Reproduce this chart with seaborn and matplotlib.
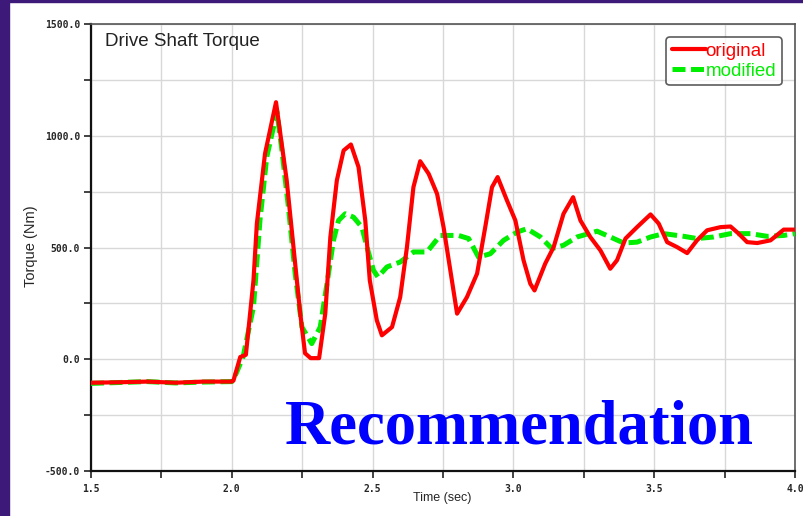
import numpy as np
import pandas as pd
import matplotlib
matplotlib.use("Agg")
import matplotlib.pyplot as plt
import seaborn as sns
from matplotlib.patches import Rectangle
from matplotlib.ticker import MultipleLocator, FixedLocator

# ---------------- data ----------------
t_original = [1.50, 1.60, 1.70, 1.80, 1.90, 2.00, 2.006, 2.03, 2.05, 2.077, 2.089, 2.118, 2.157,
              2.195, 2.219, 2.243, 2.26, 2.28, 2.31, 2.332, 2.35, 2.373, 2.397, 2.423,
              2.45, 2.474, 2.49, 2.515, 2.533, 2.569, 2.598, 2.622, 2.645, 2.669, 2.699,
              2.729, 2.752, 2.776, 2.80, 2.835, 2.871, 2.90, 2.924, 2.944, 2.977, 3.007,
              3.036, 3.06, 3.075, 3.113, 3.143, 3.178, 3.212, 3.238, 3.273, 3.309, 3.344,
              3.368, 3.398, 3.439, 3.487, 3.516, 3.546, 3.581, 3.617, 3.652, 3.688, 3.735,
              3.771, 3.80, 3.83, 3.866, 3.913, 3.96, 4.00]
v_original = [-105, -103, -100, -105, -100, -100, -95, 10, 20, 353, 607, 920, 1150,
              800, 502, 205, 27, 5, 5, 205, 547, 800, 934, 961,
              860, 621, 353, 174, 107, 144, 278, 502, 770, 886, 830,
              740, 591, 398, 204, 278, 383, 591, 770, 815, 711, 621,
              443, 338, 308, 428, 502, 651, 725, 621, 547, 487, 405,
              443, 540, 591, 648, 607, 524, 502, 475, 532, 577, 591,
              594, 562, 524, 520, 532, 580, 580]

t_modified = [1.50, 1.60, 1.70, 1.80, 1.90, 2.00, 2.01, 2.04, 2.077, 2.10, 2.124, 2.148, 2.160,
              2.178, 2.201, 2.225, 2.249, 2.284, 2.314, 2.338, 2.361, 2.379, 2.403, 2.432,
              2.462, 2.48, 2.503, 2.519, 2.551, 2.598, 2.645, 2.693, 2.74, 2.764, 2.805,
              2.841, 2.876, 2.918, 2.965, 3.013, 3.048, 3.096, 3.137, 3.178, 3.226, 3.297,
              3.344, 3.392, 3.439, 3.487, 3.534, 3.605, 3.652, 3.711, 3.771, 3.842, 3.901,
              3.96, 4.00]
v_modified = [-108, -104, -100, -106, -102, -100, -80, 10, 234, 621, 904, 1038, 1110,
              934, 681, 383, 144, 70, 144, 338, 532, 621, 651, 636,
              591, 502, 398, 368, 413, 435, 480, 480, 554, 554, 554,
              540, 457, 472, 532, 569, 584, 547, 495, 510, 547, 573,
              547, 520, 524, 547, 562, 550, 540, 547, 562, 562, 550,
              554, 562]

series_names = ["original", "modified"]
series_colors = ["#ff0000", "#00ee00"]
x_ticks = [1.5, 2.0, 2.5, 3.0, 3.5, 4.0]
x_tick_labels = ["1.5", "2.0", "2.5", "3.0", "3.5", "4.0"]
y_ticks = [-500, 0, 500, 1000, 1500]
y_tick_labels = ["-500.0", "0.0", "500.0", "1000.0", "1500.0"]

df = pd.concat([
    pd.DataFrame({"Time": t_original, "Torque": v_original, "series": series_names[0]}),
    pd.DataFrame({"Time": t_modified, "Torque": v_modified, "series": series_names[1]}),
], ignore_index=True)

# ---------------- figure ----------------
sns.set_style("white")
plt.rcParams["font.family"] = ["Liberation Sans", "DejaVu Sans"]

W, H = 804, 516
AX_L, AX_R, AX_T, AX_B = 91, 795, 24, 471
fig = plt.figure(figsize=(W / 100, H / 100), dpi=100, facecolor="white")
ax = fig.add_axes([AX_L / W, 1 - AX_B / H, (AX_R - AX_L) / W, (AX_B - AX_T) / H])
aw, ah = AX_R - AX_L, AX_B - AX_T

# purple frame strips
purple = "#3d1a7a"
fig.patches.append(Rectangle((0, 0), 9 / W, 1, transform=fig.transFigure, color=purple, zorder=-5))
fig.patches.append(Rectangle((0, 1 - 2 / H), 1, 2 / H, transform=fig.transFigure, color=purple, zorder=-5))

sns.lineplot(data=df[df.series == "original"], x="Time", y="Torque", ax=ax,
             color=series_colors[0], lw=3.0, label=series_names[0], zorder=4,
             estimator=None, sort=False)
sns.lineplot(data=df[df.series == "modified"], x="Time", y="Torque", ax=ax,
             color=series_colors[1], lw=3.6, label=series_names[1], zorder=3,
             estimator=None, sort=False)
ax.lines[0].set_solid_joinstyle("round")
ax.lines[1].set_dashes([2.6, 1.1])
ax.lines[1].set_dash_joinstyle("round")

ax.set_xlim(1.5, 4.0)
ax.set_ylim(-500, 1500)
ax.xaxis.set_major_locator(FixedLocator(x_ticks))
ax.xaxis.set_minor_locator(MultipleLocator(0.25))
ax.yaxis.set_major_locator(FixedLocator(y_ticks))
ax.yaxis.set_minor_locator(MultipleLocator(250))
ax.set_xticklabels(x_tick_labels)
ax.set_yticklabels(y_tick_labels)

for lab in ax.get_xticklabels() + ax.get_yticklabels():
    lab.set_fontfamily(["DejaVu Sans Mono", "DejaVu Sans"])
    lab.set_fontsize(7)
    lab.set_fontweight("bold")

ax.tick_params(axis="both", which="both", direction="out", length=5, width=1.2,
               color="#222222", left=True, bottom=True, pad=3)
ax.tick_params(axis="x", which="major", pad=4.3)

ax.grid(True, which="both", color="#d8d8d8", lw=1.0, zorder=0)
ax.set_axisbelow(True)

for side in ["left", "bottom"]:
    ax.spines[side].set_color("#111111")
    ax.spines[side].set_linewidth(1.6)
for side in ["top", "right"]:
    ax.spines[side].set_color("#555555")
    ax.spines[side].set_linewidth(1.2)

ax.set_xlabel("Time (sec)", fontsize=9)
ax.set_ylabel("Torque (Nm)", fontsize=10.5)
ax.xaxis.set_label_coords((442 - AX_L) / aw, -(498 - AX_B) / ah)
ax.xaxis.label.set_va("center")
ax.yaxis.set_label_coords((31 - AX_L) / aw, (AX_B - 246) / ah)
ax.yaxis.label.set_va("center")

ax.text(14 / aw, 1 - 17 / ah, "Drive Shaft Torque", transform=ax.transAxes,
        fontsize=13.5, color="#222222", va="center", ha="left")

leg = ax.legend(loc="upper right", bbox_to_anchor=((782 - AX_L) / aw, 1 - 13 / ah),
                fontsize=13.5, frameon=True, fancybox=True, handlelength=1.8, handletextpad=0.0,
                borderpad=0.3, labelspacing=0.15, borderaxespad=0)
leg.get_frame().set_edgecolor("#333333")
leg.get_frame().set_linewidth(1.2)
for txt, c in zip(leg.get_texts(), series_colors):
    txt.set_color(c)

fig.text(519.5 / W, 1 - 443 / H, "Recommendation", color="#0000ff", fontsize=45,
         fontweight="bold", family=["Liberation Serif", "DejaVu Serif"],
         ha="center", va="baseline", zorder=10)

fig.savefig("out.png", dpi=100, facecolor="white")
